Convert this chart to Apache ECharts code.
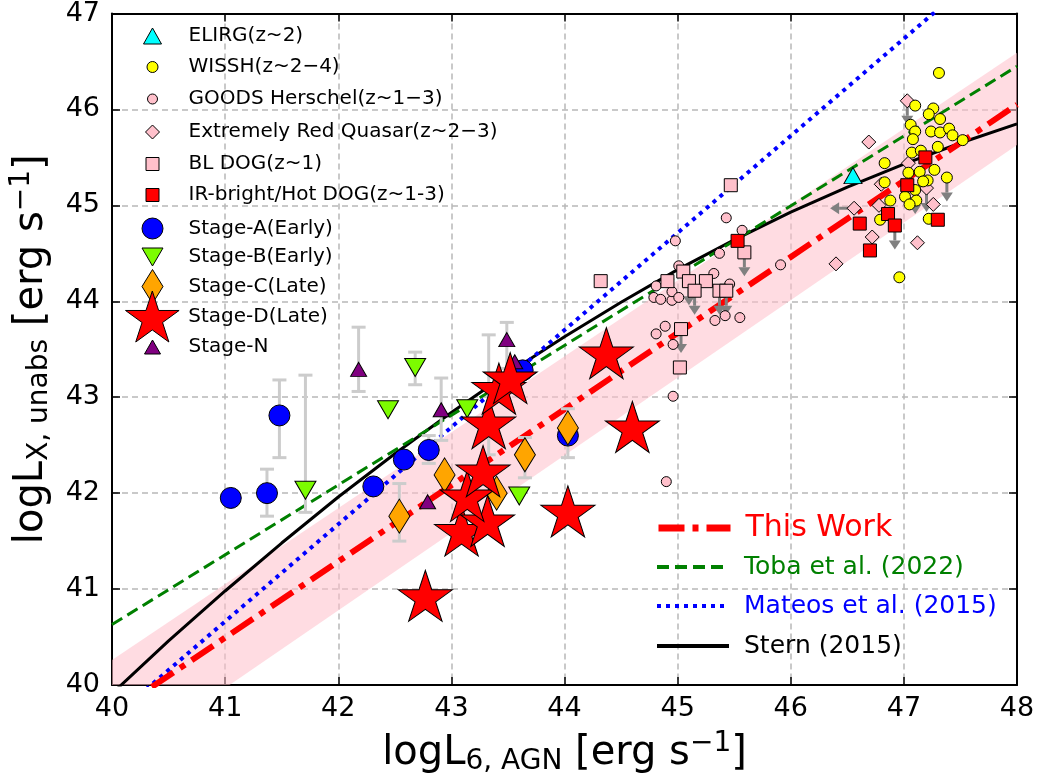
<!DOCTYPE html>
<html>
<head>
<meta charset="utf-8">
<script src="https://cdn.jsdelivr.net/npm/echarts@6/dist/echarts.min.js"></script>
<style>
  html, body { margin: 0; padding: 0; background: #fff; }
  #chart { width: 1039px; height: 782px; }
</style>
</head>
<body>
<div id="chart"></div>
<script>
// ---------------- data: [log L6,AGN, log LX,unabs] ----------------
const elirg = [[46.55, 45.31]];

const wissh = [
  [47.31, 46.38], [47.10, 46.04], [47.26, 46.01], [47.22, 45.95], [47.32, 45.90],
  [47.06, 45.84], [47.10, 45.77], [47.24, 45.77], [47.32, 45.76], [47.40, 45.80],
  [47.43, 45.73], [47.52, 45.68], [47.08, 45.69], [47.30, 45.61], [47.07, 45.55],
  [47.15, 45.57], [46.83, 45.44], [47.04, 45.34], [47.14, 45.35], [47.27, 45.37],
  [47.38, 45.29], [47.21, 45.26], [47.17, 45.25], [47.10, 45.16], [47.01, 45.09],
  [47.11, 45.05], [47.05, 45.01], [46.88, 45.05], [46.79, 44.85], [47.22, 44.86],
  [46.96, 44.25], [46.83, 45.24]
];

const goodsHerschel = [
  [45.43, 44.87], [44.98, 44.63], [45.57, 44.74], [45.37, 44.50], [45.91, 44.38],
  [45.32, 44.29], [45.01, 44.37], [45.46, 44.18], [44.81, 44.16], [44.79, 44.04],
  [44.85, 44.02], [44.95, 44.01], [44.95, 44.10], [45.01, 44.04], [44.89, 43.74],
  [44.81, 43.66], [44.96, 43.55], [45.33, 43.80], [45.42, 43.85], [45.55, 43.83],
  [44.96, 43.01], [44.90, 42.12]
];

const redQuasar = [
  [47.03, 46.09], [46.69, 45.66], [47.04, 45.44], [46.80, 45.22], [47.20, 45.18],
  [46.56, 44.97], [46.78, 45.00], [47.26, 45.01], [46.72, 44.67], [47.12, 44.61],
  [46.40, 44.39]
];

const blDog = [
  [45.47, 45.21], [44.32, 44.21], [45.05, 44.31], [44.91, 44.21], [45.10, 44.21],
  [45.25, 44.21], [45.15, 44.11], [45.37, 44.11], [45.43, 44.11], [45.59, 44.51],
  [45.03, 43.71], [45.02, 43.31]
];

const hotDog = [
  [45.53, 44.63], [47.19, 45.50], [47.03, 45.21], [46.86, 44.91], [46.92, 44.79],
  [46.61, 44.81], [47.30, 44.85], [46.70, 44.53]
];

const stageA = [
  [41.05, 41.95], [41.37, 42.00], [41.48, 42.81], [42.31, 42.07], [42.58, 42.35],
  [42.80, 42.45], [43.63, 43.28], [44.03, 42.60]
];
const stageB = [[41.71, 42.03], [42.44, 42.87], [42.68, 43.31], [43.14, 42.88], [43.60, 41.97]];
const stageC = [[42.54, 41.76], [42.94, 42.19], [43.40, 42.00], [43.65, 42.40], [44.03, 42.68]];
const stageD = [
  [42.77, 40.93], [43.09, 41.61], [43.32, 41.71], [43.14, 41.97], [43.28, 42.23],
  [43.33, 42.73], [43.42, 43.09], [43.52, 43.20], [44.03, 41.81], [44.37, 43.46],
  [44.60, 42.69]
];
const stageN = [[42.18, 43.29], [42.79, 41.91], [42.91, 42.87], [43.49, 43.60], [43.56, 43.37]];

// vertical error bars: [x, yLow, yHigh]
const errorBars = [
  [41.37, 41.76, 42.25], [41.48, 42.37, 43.18], [41.71, 41.80, 43.23], [42.18, 43.06, 43.73],
  [42.68, 43.13, 43.47], [42.91, 42.55, 43.20], [42.80, 42.31, 42.60], [42.54, 41.50, 42.10],
  [43.33, 42.40, 43.65], [43.49, 43.30, 43.78], [43.65, 42.16, 42.58], [44.03, 42.37, 42.88]
];

// limits: upper limits in LX (arrow down) and in L6 (arrow left)
const upperLimitsY = [
  [45.10, 44.21], [45.15, 44.11], [45.37, 44.11], [45.43, 44.11], [45.59, 44.51],
  [45.03, 43.71], [47.03, 46.09], [46.92, 44.79], [47.38, 45.29], [47.10, 45.16],
  [47.20, 45.18]
];
const upperLimitsX = [[46.56, 44.97]];

// relations
const thisWorkX = [40, 48],  thisWorkY = [39.70, 46.05];
const bandX = [40, 48], bandLow = [39.16, 45.63], bandHigh = [40.26, 46.59];
const tobaX = [40, 48],      tobaY = [40.63, 46.45];
const mateosX = [40, 48],    mateosY = [39.65, 47.75];
const sternX = [40, 40.5, 41, 41.5, 42, 42.5, 43, 43.5, 44, 44.5, 45, 45.5, 46, 46.5, 47, 47.5, 48];
const sternY = [39.91, 40.46, 40.98, 41.48, 41.96, 42.41, 42.84, 43.25, 43.63, 43.99, 44.33,
                44.64, 44.93, 45.19, 45.43, 45.65, 45.85];

const xMin = 40, xMax = 48, yMin = 40, yMax = 47;

// ---------------- marker shapes ----------------
const FONT = 'DejaVu Sans';
const STAR = 'path://M0,-50L11.23,-15.45L47.55,-15.45L18.17,5.9L29.39,40.45L0,19.1L-29.39,40.45L-18.17,5.9L-47.55,-15.45L-11.23,-15.45Z';
const triUp = (w, h) => `path://M${w / 2},0L${w},${h}L0,${h}Z`;
const triDown = (w, h) => `path://M0,0L${w},0L${w / 2},${h}Z`;
const diamond = (w, h) => `path://M${w / 2},0L${w},${h / 2}L${w / 2},${h}L0,${h / 2}Z`;
const square = (w) => `path://M0,0L${w},0L${w},${w}L0,${w}Z`;
const CIRCLE = 'circle';

const zip = (xs, ys) => xs.map((x, i) => [x, ys[i]]);

// scatter groups, in drawing order; row = legend row centre (px)
const groups = [
  { name: 'GOODS Herschel(z~1\u22123)', data: goodsHerschel, symbol: CIRCLE, w: 10, h: 10, color: '#ffc0cb', row: 99 },
  { name: 'BL DOG(z~1)', data: blDog, symbol: square(13), w: 13, h: 13, color: '#ffc0cb', row: 164 },
  { name: 'Extremely Red Quasar(z~2\u22123)', data: redQuasar, symbol: diamond(14, 14), w: 14, h: 14, color: '#ffc0cb', row: 132 },
  { name: 'WISSH(z~2\u22124)', data: wissh, symbol: CIRCLE, w: 11, h: 11, color: '#ffff00', row: 67 },
  { name: 'IR-bright/Hot DOG(z~1-3)', data: hotDog, symbol: square(13), w: 13, h: 13, color: '#ff0000', row: 195 },
  { name: 'ELIRG(z~2)', data: elirg, symbol: triUp(18, 16), w: 18, h: 16, color: '#00ffff', row: 36 },
  { name: 'Stage-A(Early)', data: stageA, symbol: CIRCLE, w: 21, h: 21, color: '#0000ff', row: 228 },
  { name: 'Stage-B(Early)', data: stageB, symbol: triDown(21, 18), w: 21, h: 18, color: '#7cfc00', row: 257 },
  { name: 'Stage-C(Late)', data: stageC, symbol: diamond(21, 34), w: 21, h: 34, color: '#ffa500', row: 286 },
  { name: 'Stage-N', data: stageN, symbol: triUp(16, 14), w: 16, h: 14, color: '#800080', row: 347 },
  { name: 'Stage-D(Late)', data: stageD, symbol: STAR, w: 54, h: 51, color: '#ff0000', row: 316 }
];

// relation lines: name, values, colour, width, dash pattern, legend row and text size
const relations = [
  { name: 'Stern (2015)', xs: sternX, ys: sternY, color: '#000000', width: 3, dash: 'solid', row: 646, size: 25, legendWidth: 4 },
  { name: 'Mateos et al. (2015)', xs: mateosX, ys: mateosY, color: '#0000ff', width: 4, dash: [4, 5], row: 606, size: 25, legendWidth: 4 },
  { name: 'Toba et al. (2022)', xs: tobaX, ys: tobaY, color: '#008000', width: 3, dash: [12, 6], row: 567, size: 25, legendWidth: 4 },
  { name: 'This Work', xs: thisWorkX, ys: thisWorkY, color: '#ff0000', width: 6, dash: [26, 8, 6, 8], row: 528, size: 30, legendWidth: 7 }
];

// ---------------- series ----------------
const series = [];

// shaded band around this work's relation
series.push({
  type: 'custom',
  name: 'band',
  z: 1,
  silent: true,
  clip: true,
  data: bandX.map((x, i) => [x, bandLow[i], bandHigh[i]]),
  encode: { x: 0, y: [1, 2] },
  renderItem: function (params, api) {
    if (params.dataIndex !== 0) return null;
    const pts = [];
    for (let i = 0; i < bandX.length; i++) pts.push(api.coord([bandX[i], bandHigh[i]]));
    for (let i = bandX.length - 1; i >= 0; i--) pts.push(api.coord([bandX[i], bandLow[i]]));
    const cs = params.coordSys;
    return {
      type: 'group',
      clipPath: { type: 'rect', shape: { x: cs.x, y: cs.y, width: cs.width, height: cs.height } },
      children: [{ type: 'polygon', shape: { points: pts }, style: { fill: 'rgba(255,192,203,0.55)' } }]
    };
  }
});

relations.forEach(r => {
  series.push({
    type: 'line', name: r.name, data: zip(r.xs, r.ys), symbol: 'none', clip: true, z: 2,
    silent: true, smooth: false,
    lineStyle: { color: r.color, width: r.width, type: r.dash, cap: 'butt' },
    itemStyle: { color: r.color }
  });
});

// grey error bars
series.push({
  type: 'custom', name: 'errors', z: 3, silent: true,
  data: errorBars, encode: { x: 0, y: [1, 2] },
  renderItem: function (params, api) {
    const x = api.value(0);
    const a = api.coord([x, api.value(1)]);
    const b = api.coord([x, api.value(2)]);
    const c = 7;
    const st = { stroke: '#cccccc', lineWidth: 3 };
    return {
      type: 'group', children: [
        { type: 'line', shape: { x1: a[0], y1: a[1], x2: b[0], y2: b[1] }, style: st },
        { type: 'line', shape: { x1: a[0] - c, y1: a[1], x2: a[0] + c, y2: a[1] }, style: st },
        { type: 'line', shape: { x1: b[0] - c, y1: b[1], x2: b[0] + c, y2: b[1] }, style: st }
      ]
    };
  }
});

// limit arrows: 0 = down (upper limit on LX), 1 = left (upper limit on L6)
const limitRows = upperLimitsY.map(p => [p[0], p[1], 0]).concat(upperLimitsX.map(p => [p[0], p[1], 1]));
series.push({
  type: 'custom', name: 'limits', z: 3, silent: true,
  data: limitRows, encode: { x: 0, y: 1 },
  renderItem: function (params, api) {
    const p = api.coord([api.value(0), api.value(1)]);
    const dir = api.value(2);
    const L = 24, hw = 6, hl = 9;
    let end, head;
    if (dir === 0) {
      end = [p[0], p[1] + L - hl];
      head = [[p[0] - hw, p[1] + L - hl], [p[0] + hw, p[1] + L - hl], [p[0], p[1] + L]];
    } else {
      end = [p[0] - L + hl, p[1]];
      head = [[p[0] - L + hl, p[1] - hw], [p[0] - L + hl, p[1] + hw], [p[0] - L, p[1]]];
    }
    return {
      type: 'group', children: [
        { type: 'line', shape: { x1: p[0], y1: p[1], x2: end[0], y2: end[1] }, style: { stroke: '#808080', lineWidth: 3 } },
        { type: 'polygon', shape: { points: head }, style: { fill: '#808080' } }
      ]
    };
  }
});

groups.forEach((g, i) => {
  series.push({
    type: 'scatter', name: g.name, data: g.data, z: 4 + i,
    symbol: g.symbol, symbolSize: [g.w, g.h], symbolKeepAspect: false,
    itemStyle: { color: g.color, borderColor: '#000', borderWidth: 1, opacity: 1 },
    emphasis: { disabled: true }
  });
});

// ---------------- legends ----------------
// the legend box is placed by its drawn bounds, so the left edge is the icon's own left edge
const legends = [];
const LEG_ICON_X = 152, LEG_BOX = 62, LEG_FONT = 20;
groups.forEach(g => {
  const iconW = g.symbol === CIRCLE ? g.h : g.w;
  legends.push({
    data: [{ name: g.name, icon: g.symbol === CIRCLE ? 'circle' : g.symbol }],
    left: LEG_ICON_X - iconW / 2,
    top: g.row - Math.max(g.h, LEG_FONT) / 2,
    padding: 0, itemWidth: LEG_BOX, itemHeight: g.h,
    symbolKeepAspect: true, symbolRotate: 0, selectedMode: false,
    itemStyle: { borderColor: '#000', borderWidth: 1 },
    textStyle: { fontFamily: FONT, fontSize: LEG_FONT, color: '#000' }
  });
});
relations.slice().reverse().forEach(r => {
  legends.push({
    data: [r.name], left: 655, top: r.row - r.size / 2,
    padding: 0, itemWidth: 72, itemHeight: 14, selectedMode: false,
    itemStyle: { color: 'rgba(0,0,0,0)', borderWidth: 0, opacity: 0 },
    lineStyle: { width: r.legendWidth, color: r.color },
    textStyle: { fontFamily: FONT, fontSize: r.size, color: r.color, padding: [0, 0, 0, 10] }
  });
});

// ---------------- axes ----------------
const tickLabel = { fontFamily: FONT, fontSize: 27, color: '#000' };
const axisLine = { show: true, onZero: false, lineStyle: { color: '#000', width: 2 } };
const axisTick = { show: true, inside: true, length: 8, lineStyle: { color: '#000', width: 1.5 } };
const grid = { show: true, lineStyle: { color: '#b8b8b8', width: 1.5, type: [6, 4] } };
const titleRich = {
  m: { fontFamily: FONT, fontSize: 40, color: '#000' },
  s: { fontFamily: FONT, fontSize: 28, color: '#000', padding: [16, 0, 0, 0] },
  p: { fontFamily: FONT, fontSize: 28, color: '#000', padding: [0, 0, 20, 0] }
};

const option = {
  animation: false,
  backgroundColor: '#ffffff',
  grid: { left: 112, right: 22, top: 10, bottom: 97, containLabel: false },
  xAxis: [
    {
      type: 'value', min: xMin, max: xMax, interval: 1, position: 'bottom',
      name: '{m|logL}{s|6, AGN}{m| [erg s}{p|\u22121}{m|]}',
      nameLocation: 'middle', nameGap: 45,
      nameTextStyle: { rich: titleRich },
      axisLine: axisLine, axisTick: axisTick, splitLine: grid,
      axisLabel: Object.assign({ margin: 10 }, tickLabel)
    },
    {
      type: 'value', min: xMin, max: xMax, interval: 1, position: 'top',
      axisLine: axisLine, axisTick: axisTick, splitLine: { show: false }, axisLabel: { show: false }
    }
  ],
  yAxis: [
    {
      type: 'value', min: yMin, max: yMax, interval: 1, position: 'left',
      name: '{m|logL}{s|X, unabs}{m| [erg s}{p|\u22121}{m|]}',
      nameLocation: 'middle', nameGap: 56, nameRotate: 90,
      nameTextStyle: { rich: titleRich },
      axisLine: axisLine, axisTick: axisTick, splitLine: grid,
      axisLabel: Object.assign({ margin: 12 }, tickLabel)
    },
    {
      type: 'value', min: yMin, max: yMax, interval: 1, position: 'right',
      axisLine: axisLine, axisTick: axisTick, splitLine: { show: false }, axisLabel: { show: false }
    }
  ],
  legend: legends,
  series: series
};

const chart = echarts.init(document.getElementById('chart'), null, { renderer: 'canvas' });
chart.setOption(option);
</script>
</body>
</html>
